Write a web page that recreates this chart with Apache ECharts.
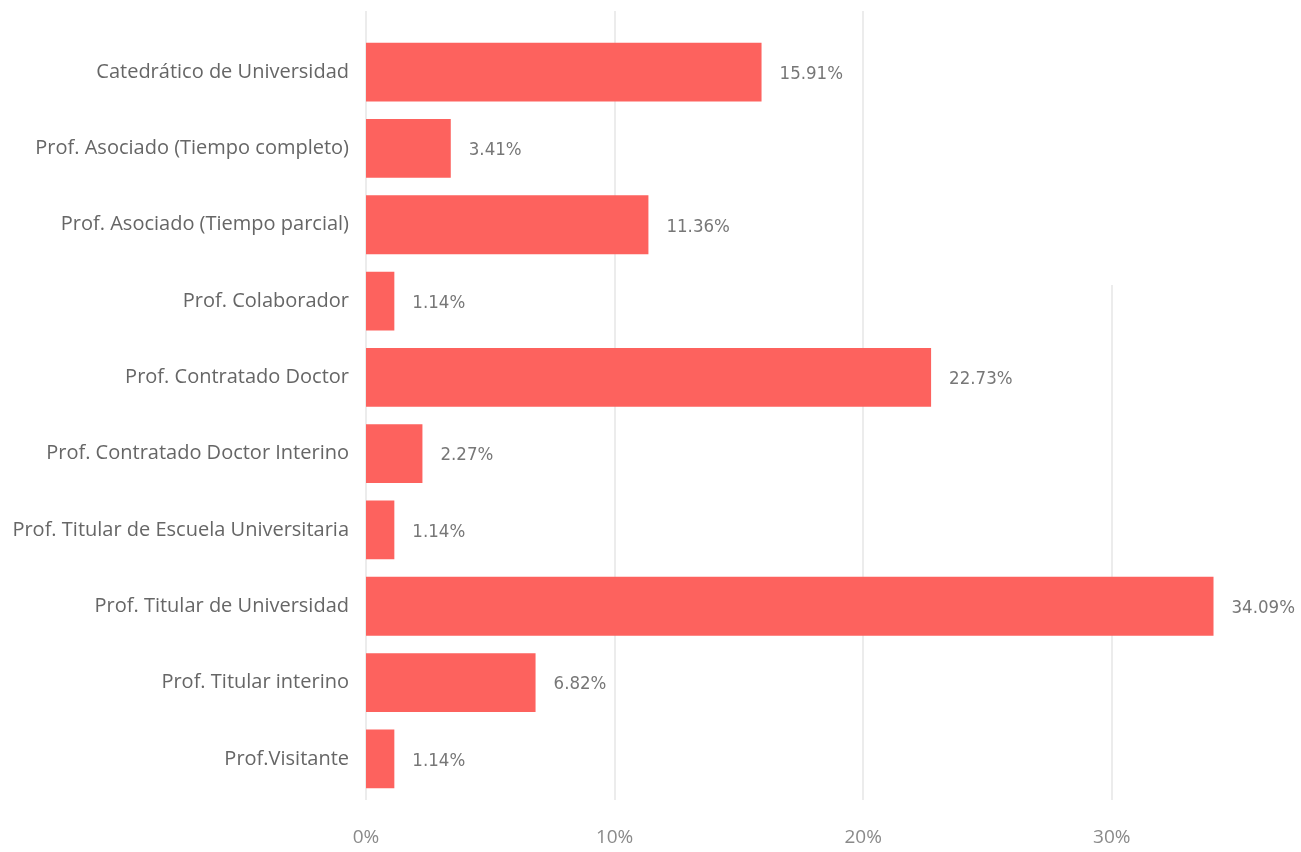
<!DOCTYPE html>
<html>
<head>
<meta charset="utf-8">
<script src="https://cdn.jsdelivr.net/npm/echarts@6/dist/echarts.min.js"></script>
<style>
html,body{margin:0;padding:0;background:#fff;}
#chart{width:1301px;height:852px;}
</style>
</head>
<body>
<div id="chart"></div>
<script>
const categories = [
  "Catedrático de Universidad",
  "Prof. Asociado (Tiempo completo)",
  "Prof. Asociado (Tiempo parcial)",
  "Prof. Colaborador",
  "Prof. Contratado Doctor",
  "Prof. Contratado Doctor Interino",
  "Prof. Titular de Escuela Universitaria",
  "Prof. Titular de Universidad",
  "Prof. Titular interino",
  "Prof.Visitante"
];
const values = [15.91, 3.41, 11.36, 1.14, 22.73, 2.27, 1.14, 34.09, 6.82, 1.14];
const tickValues = [0, 10, 20, 30];

const g = '#e6e6e6', t = 'rgba(0,0,0,0)';
const chart = echarts.init(document.getElementById('chart'));
chart.setOption({
  animation: false,
  grid: [
    { left: 366, right: 40, top: 11, bottom: 52 },
    { left: 366, right: 40, top: 34, height: 763 },
    { left: 366, right: 40, top: 285, bottom: 52 }
  ],
  xAxis: [{
    gridIndex: 0, type: 'value', min: 0, max: 36, interval: 10,
    axisLine: { show: false }, axisTick: { show: false },
    splitLine: { show: true, lineStyle: { color: [g, g, g, t, t], width: 1.5 } },
    axisLabel: {
      color: '#8a8a8a', fontSize: 19, fontFamily: 'Open Sans', margin: 28,
      formatter: v => tickValues.includes(v) ? v + '%' : ''
    }
  }, {
    gridIndex: 1, type: 'value', min: 0, max: 36, interval: 10,
    axisLine: { show: false }, axisTick: { show: false },
    splitLine: { show: false }, axisLabel: { show: false }
  }, {
    gridIndex: 2, type: 'value', min: 0, max: 36, interval: 10,
    axisLine: { show: false }, axisTick: { show: false },
    splitLine: { show: true, lineStyle: { color: [t, t, t, g, t], width: 1.5 } },
    axisLabel: { show: false }
  }],
  yAxis: [{
    gridIndex: 0, type: 'category', data: ['a'], show: false
  }, {
    gridIndex: 1, type: 'category', data: categories, inverse: true,
    axisLine: { show: false }, axisTick: { show: false },
    axisLabel: { color: '#666', fontSize: 20, fontFamily: 'Open Sans', margin: 17 }
  }, {
    gridIndex: 2, type: 'category', data: ['a'], show: false
  }],
  series: [{
    type: 'bar', data: values, barCategoryGap: '23%',
    xAxisIndex: 1, yAxisIndex: 1, z: 3,
    itemStyle: { color: '#FD625E' },
    label: {
      show: true, position: 'right', distance: 18, offset: [0, 2],
      color: '#777', fontSize: 18.5, fontFamily: 'DejaVu Sans Condensed',
      formatter: p => p.value.toFixed(2) + '%'
    }
  }]
});
</script>
</body>
</html>
